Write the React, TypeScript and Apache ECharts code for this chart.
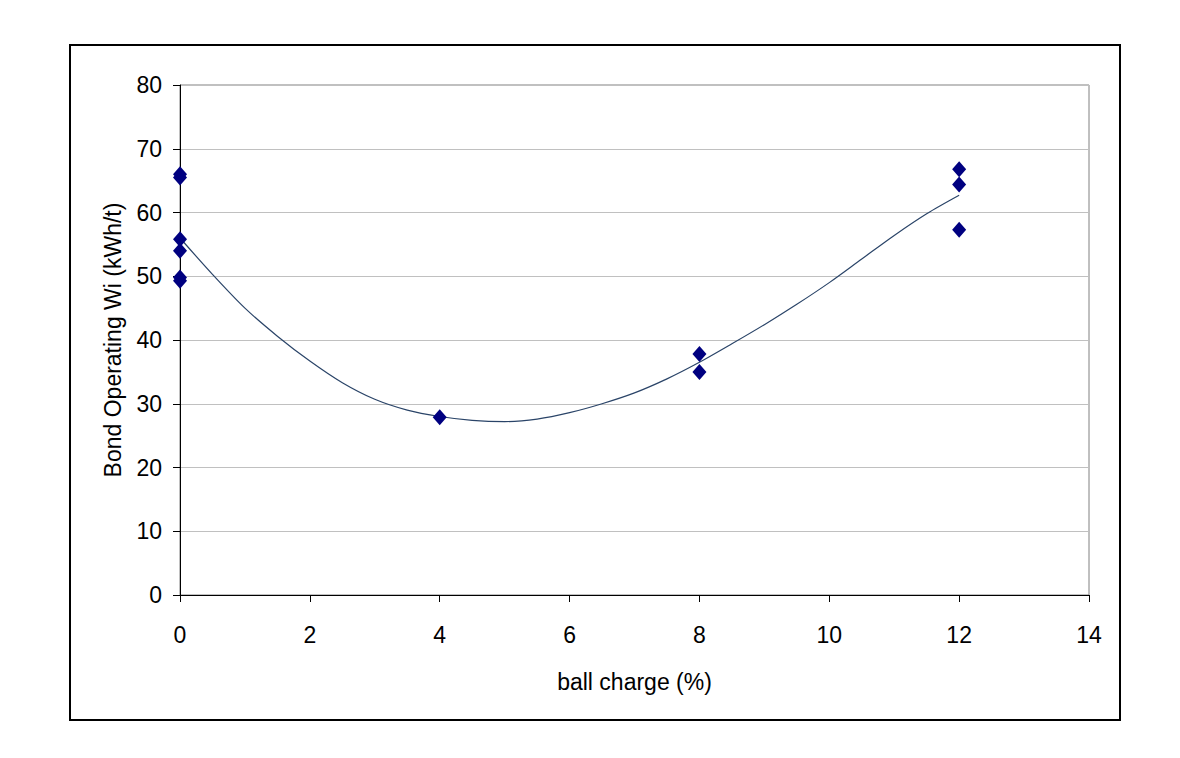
import React, { useEffect, useRef } from "react";
import * as echarts from "echarts";

// Measured points: ball charge (%) vs Bond Operating Wi (kWh/t)
const pointX: number[] = [0, 0, 0, 0, 0, 0, 4, 8, 8, 12, 12, 12];
const pointY: number[] = [66.0, 65.5, 55.8, 54.0, 49.8, 49.3, 27.9, 37.8, 35.0, 66.8, 64.4, 57.3];

// Trend line
const trendX: number[] = [0, 0.5, 1, 1.5, 2, 2.5, 3, 3.5, 4, 4.5, 5, 5.5, 6, 6.5, 7, 7.5, 8, 8.5, 9, 9.5, 10, 10.5, 11, 11.5, 12];
const trendY: number[] = [56.0, 50.3, 45.0, 40.6, 36.7, 33.3, 30.7, 29.0, 28.0, 27.4, 27.2, 27.6, 28.6, 30.0, 31.7, 33.9, 36.5, 39.4, 42.4, 45.6, 49.0, 52.7, 56.4, 59.8, 62.7];

const xTicks: number[] = [0, 2, 4, 6, 8, 10, 12, 14];
const yTicks: number[] = [0, 10, 20, 30, 40, 50, 60, 70, 80];

const xName = "ball charge (%)";
const yName = "Bond Operating Wi (kWh/t)";

export default function App() {
  const ref = useRef<HTMLDivElement>(null);

  useEffect(() => {
    if (!ref.current) return;
    const chart = echarts.init(ref.current, undefined, { renderer: "svg" });
    const font = "'Liberation Sans', Arial, sans-serif";
    chart.setOption({
      animation: false,
      backgroundColor: "#ffffff",
      textStyle: { fontFamily: font },
      grid: {
        left: 180,
        top: 85,
        right: 91,
        bottom: 163,
        show: true,
        borderColor: "#808080",
        borderWidth: 1,
        backgroundColor: "transparent",
      },
      graphic: [
        {
          type: "rect",
          shape: { x: 70, y: 45, width: 1050, height: 675 },
          style: { fill: "none", stroke: "#000000", lineWidth: 2 },
          silent: true,
        },
      ],
      xAxis: {
        type: "value",
        min: xTicks[0],
        max: xTicks[xTicks.length - 1],
        interval: 2,
        name: xName,
        nameLocation: "middle",
        nameGap: 75,
        nameTextStyle: { fontSize: 23, color: "#000", fontFamily: font },
        axisLine: { show: true, onZero: false, lineStyle: { color: "#000", width: 1 } },
        axisTick: { show: true, inside: false, length: 7, lineStyle: { color: "#000" } },
        axisLabel: { fontSize: 23, color: "#000", margin: 28, fontFamily: font },
        splitLine: { show: false },
      },
      yAxis: {
        type: "value",
        min: yTicks[0],
        max: yTicks[yTicks.length - 1],
        interval: 10,
        name: yName,
        nameLocation: "middle",
        nameGap: 56,
        nameRotate: 90,
        nameTextStyle: { fontSize: 23, color: "#000", fontFamily: font },
        axisLine: { show: true, onZero: false, lineStyle: { color: "#000", width: 1 } },
        axisTick: { show: true, inside: false, length: 7, lineStyle: { color: "#000" } },
        axisLabel: { fontSize: 23, color: "#000", margin: 18, fontFamily: font },
        splitLine: { show: true, lineStyle: { color: "#c0c0c0", width: 1 } },
      },
      series: [
        {
          type: "line",
          data: trendX.map((x, i) => [x, trendY[i]]),
          smooth: 0.3,
          showSymbol: false,
          symbol: "none",
          lineStyle: { color: "#2a4468", width: 1.2 },
          z: 2,
        },
        {
          type: "scatter",
          data: pointX.map((x, i) => [x, pointY[i]]),
          symbol: "diamond",
          symbolSize: [14, 16],
          itemStyle: { color: "#000080", opacity: 1 },
          clip: false,
          z: 3,
        },
      ],
    });
    return () => chart.dispose();
  }, []);

  return (
    <div
      ref={ref}
      style={{ position: "fixed", left: 0, top: 0, width: 1180, height: 758, background: "#fff" }}
    />
  );
}
